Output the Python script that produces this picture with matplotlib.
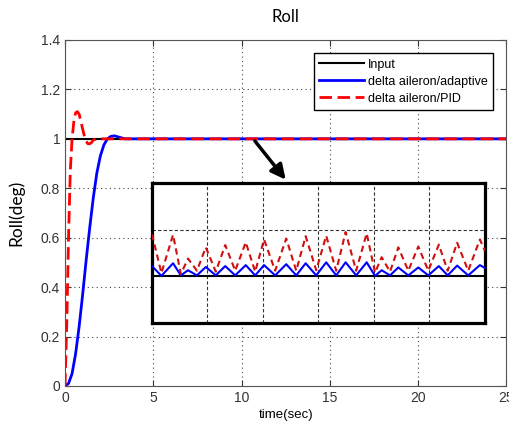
import numpy as np
import matplotlib.pyplot as plt

plt.rcParams['font.family'] = ['Liberation Sans', 'DejaVu Sans']

# main step responses
t_blue = [0, 0.2, 0.4, 0.6, 0.8, 1.0, 1.2, 1.4, 1.6, 1.8, 2.0, 2.2, 2.4, 2.6, 2.8, 3.0, 3.4, 4.0, 25]
y_blue = [0, 0.01, 0.05, 0.13, 0.24, 0.37, 0.51, 0.64, 0.76, 0.86, 0.93, 0.975, 1.0, 1.01, 1.012, 1.008, 1.0, 1.0, 1.0]
t_red = [0, 0.1, 0.2, 0.3, 0.4, 0.5, 0.6, 0.7, 0.8, 0.9, 1.0, 1.1, 1.2, 1.3, 1.4, 1.5, 1.6, 1.8, 2.0, 25]
y_red = [0, 0.25, 0.6, 0.87, 1.0, 1.07, 1.105, 1.11, 1.1, 1.07, 1.04, 1.01, 0.99, 0.98, 0.98, 0.985, 0.995, 1.0, 1.0, 1.0]
t_in = [0, 25]
y_in = [1, 1]

# zoomed detail (inset units)
peak_x = [0.0, 0.38, 0.65, 0.97, 1.32, 1.69, 2.02, 2.42, 2.77, 3.14, 3.49, 3.87, 4.14, 4.44, 4.80, 5.17, 5.50, 5.91]
red_peak = [0.90, 0.89, 0.38, 0.62, 0.67, 0.73, 0.79, 0.81, 0.86, 0.87, 0.95, 0.92, 0.41, 0.62, 0.64, 0.68, 0.72, 0.79]
blue_peak = [0.22, 0.28, 0.13, 0.20, 0.22, 0.24, 0.24, 0.26, 0.28, 0.30, 0.30, 0.30, 0.13, 0.19, 0.19, 0.22, 0.23, 0.24]
trough_x = [0.17, 0.52, 0.81, 1.15, 1.50, 1.86, 2.22, 2.60, 2.96, 3.32, 3.68, 4.02, 4.29, 4.62, 4.98, 5.33, 5.70, 6.0]
red_trough = [0.07, 0.05, 0.12, 0.10, 0.12, 0.10, 0.12, 0.12, 0.13, 0.12, 0.12, 0.08, 0.10, 0.12, 0.12, 0.12, 0.12, 0.55]
blue_trough = [0.01, 0.02, 0.02, 0.02, 0.02, 0.02, 0.02, 0.02, 0.02, 0.02, 0.02, 0.01, 0.02, 0.02, 0.02, 0.02, 0.02, 0.18]

fig = plt.figure(figsize=(5.09, 4.23), dpi=100)
ax = fig.add_axes([0.1277, 0.0875, 0.867, 0.818])

ax.plot(t_in, y_in, color='black', lw=1.5, label='Input')
ax.plot(t_blue, y_blue, color='blue', lw=2, label='delta aileron/adaptive')
ax.plot(t_red, y_red, color='red', lw=2, ls=(0, (4.5, 2)), label='delta aileron/PID')

ax.set_xlim(0, 25)
ax.set_ylim(0, 1.4)
ax.set_xticks([0, 5, 10, 15, 20, 25])
ax.set_yticks(np.arange(0, 1.41, 0.2))
ax.set_yticklabels(['0', '0.2', '0.4', '0.6', '0.8', '1', '1.2', '1.4'])
ax.grid(True, ls=(0, (1, 3)), color='#444444', lw=0.8)
ax.tick_params(direction='in', labelsize=10, colors='#333333', length=4, top=True, right=True)
for s in ax.spines.values():
    s.set_color('#555555')
ax.set_title('Roll', fontsize=12, family=['Lato', 'DejaVu Sans'], pad=13)
ax.set_xlabel('time(sec)', fontsize=9.5, labelpad=3)
ax.set_ylabel('Roll(deg)', fontsize=12.5, family=['Lato', 'DejaVu Sans'], labelpad=12)

leg = ax.legend(loc='upper right', bbox_to_anchor=(0.985, 0.98), fontsize=9, handlelength=3.6,
                fancybox=False, framealpha=1, edgecolor='black', borderpad=0.45, labelspacing=0.4,
                handletextpad=0.3)
leg.get_frame().set_linewidth(1.0)

ax.annotate('', xy=(12.6, 0.826), xytext=(10.66, 1.0),
            arrowprops=dict(arrowstyle='-|>', color='black', lw=2.5, mutation_scale=22))

# inset
ins = fig.add_axes([0.2986, 0.2364, 0.654, 0.331])
ix = np.concatenate([peak_x, trough_x])
order = np.argsort(ix)
ix = ix[order]
red_i = np.concatenate([red_peak, red_trough])[order]
blue_i = np.concatenate([blue_peak, blue_trough])[order]
ins.plot([0, 6], [0, 0], color='black', lw=1.5, zorder=3)
ins.plot(ix, blue_i, color='blue', lw=1.5, zorder=4)
ins.plot(ix, red_i, color='#d01010', lw=1.5, ls=(0, (3, 2)), zorder=5)
ins.set_xlim(0, 6)
ins.set_ylim(-1, 2)
ins.set_xticks([1, 2, 3, 4, 5])
ins.set_yticks([1, 2])
ins.set_xticklabels([])
ins.set_yticklabels([])
ins.tick_params(length=0)
ins.grid(True, ls=(0, (3, 2)), color='#333333', lw=0.8)
for s in ins.spines.values():
    s.set_linewidth(2.3)
    s.set_color('black')

fig.savefig('out.png', dpi=100)
